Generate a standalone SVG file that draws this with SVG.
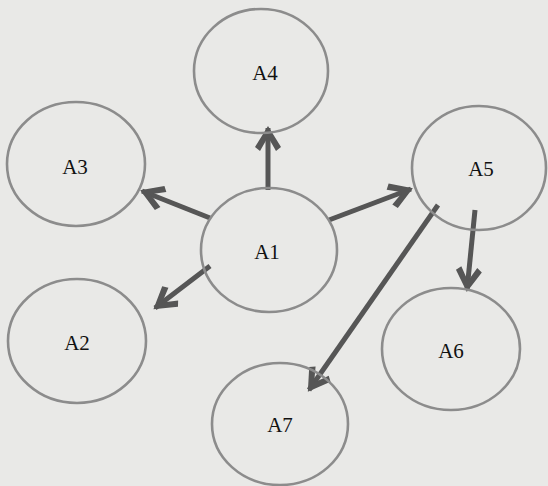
<svg xmlns="http://www.w3.org/2000/svg" width="548" height="486" viewBox="0 0 548 486">
  <style>
    .node { fill: none; stroke: #8c8c8c; stroke-width: 2.6; }
    .label { font-family: "Liberation Serif", "Times New Roman", serif; font-size: 21px; fill: #111111; text-anchor: middle; dominant-baseline: central; }
    .edge { stroke: #565656; stroke-width: 5; fill: none; marker-end: url(#head); }
  </style>
  <defs>
    <marker id="head" markerUnits="userSpaceOnUse" viewBox="-26 -15 30 30" refX="0" refY="0" markerWidth="30" markerHeight="30" orient="auto">
      <path d="M2,0 L-19,-13 L-23,-8 L-9,0 L-23,8 L-19,13 Z" fill="#565656"/>
    </marker>
    <filter id="soft" x="-10%" y="-10%" width="120%" height="120%">
      <feGaussianBlur stdDeviation="0.6"/>
    </filter>
  </defs>

  <rect width="548" height="486" fill="#e9e9e7"/>

  <g id="edges" filter="url(#soft)">
    <line class="edge" x1="268" y1="190" x2="268" y2="128"/>
    <line class="edge" x1="210" y1="218" x2="142" y2="191"/>
    <line class="edge" x1="329" y1="220" x2="411" y2="189"/>
    <line class="edge" x1="210" y1="266" x2="155" y2="308"/>
    <line class="edge" x1="438" y1="205" x2="309" y2="390"/>
    <line class="edge" x1="475" y1="210" x2="467" y2="290"/>
  </g>

  <g id="A1">
    <ellipse class="node" cx="269" cy="250" rx="68" ry="62"/>
    <text class="label" x="267" y="252">A1</text>
  </g>
  <g id="A2">
    <ellipse class="node" cx="77" cy="341" rx="69" ry="62"/>
    <text class="label" x="77" y="343">A2</text>
  </g>
  <g id="A3">
    <ellipse class="node" cx="76" cy="164" rx="69" ry="62"/>
    <text class="label" x="75" y="167">A3</text>
  </g>
  <g id="A4">
    <ellipse class="node" cx="261" cy="71" rx="67" ry="62"/>
    <text class="label" x="265" y="73">A4</text>
  </g>
  <g id="A5">
    <ellipse class="node" cx="479" cy="168" rx="67" ry="62"/>
    <text class="label" x="481" y="169">A5</text>
  </g>
  <g id="A6">
    <ellipse class="node" cx="451" cy="349" rx="69" ry="61"/>
    <text class="label" x="451" y="351">A6</text>
  </g>
  <g id="A7">
    <ellipse class="node" cx="280" cy="424" rx="68" ry="61"/>
    <text class="label" x="280" y="425">A7</text>
  </g>
</svg>
